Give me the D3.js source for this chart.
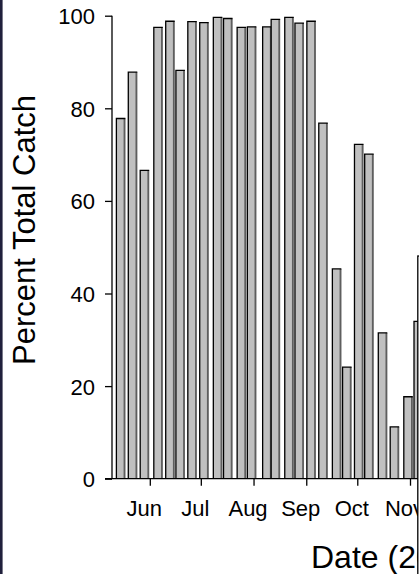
<!DOCTYPE html>
<html>
<head>
<meta charset="utf-8">
<script src="https://cdn.jsdelivr.net/npm/d3@7"></script>
<style>
  html, body { margin: 0; padding: 0; background: #fff; overflow: hidden; }
  svg { display: block; font-family: "Liberation Sans", Arial, sans-serif; }
</style>
</head>
<body>
<svg id="chart" width="419" height="574"></svg>
<script>
//---- Data ------------------------------------------------------------------
var sampleDates = ["2012-05-15", "2012-05-22", "2012-05-29", "2012-06-06", "2012-06-13",
  "2012-06-19", "2012-06-26", "2012-07-03", "2012-07-11", "2012-07-17", "2012-07-25",
  "2012-07-31", "2012-08-09", "2012-08-14", "2012-08-22", "2012-08-28", "2012-09-04",
  "2012-09-11", "2012-09-19", "2012-09-25", "2012-10-02", "2012-10-08", "2012-10-16",
  "2012-10-23", "2012-10-31", "2012-11-06"];
var percentCatch = [77.8, 87.8, 66.6, 97.5, 98.8, 88.2, 98.7, 98.5, 99.65, 99.4, 97.5,
  97.6, 97.6, 99.2, 99.65, 98.4, 98.8, 76.8, 45.3, 24.1, 72.2, 70.1, 31.5, 11.2, 17.7, 34.0];
var yTicks = [0, 20, 40, 60, 80, 100];
var monthTicks = ["2012-06-01", "2012-07-01", "2012-08-01", "2012-09-01", "2012-10-01", "2012-11-01"];
var yTitle = "Percent Total Catch";
var xTitle = "Date (2012)";

//---- Scales ----------------------------------------------------------------
var parse = d3.timeParse("%Y-%m-%d");
var svg = d3.select("#chart");
var axisX = 112, baseY = 478.7, barW = 9;
var font = "Liberation Sans, Arial, sans-serif";

var x = d3.scaleTime()
  .domain([parse("2012-06-01"), parse("2012-11-01")])
  .range([149.8, 410]);
var y = d3.scaleLinear().domain([0, 100]).range([baseY, 15.7]);

var data = sampleDates.map(function (d, i) { return { date: parse(d), value: percentCatch[i] }; });

//---- Bars ------------------------------------------------------------------
var bars = svg.append("g").selectAll("g").data(data).enter().append("g");
bars.append("rect")
  .attr("x", function (d) { return x(d.date) - barW / 2; })
  .attr("y", function (d) { return y(d.value); })
  .attr("width", barW)
  .attr("height", function (d) { return baseY - y(d.value); })
  .attr("fill", "#c0c0c0");
// dark right side
bars.append("line")
  .attr("x1", function (d) { return x(d.date) + barW / 2 - 0.9; })
  .attr("x2", function (d) { return x(d.date) + barW / 2 - 0.9; })
  .attr("y1", function (d) { return y(d.value); })
  .attr("y2", baseY)
  .attr("stroke", "#5e5e5e").attr("stroke-width", 1.8);
// black left + top edge
bars.append("path")
  .attr("d", function (d) {
    var l = x(d.date) - barW / 2, r = x(d.date) + barW / 2, t = y(d.value);
    return "M" + l + "," + baseY + "V" + t + "H" + r;
  })
  .attr("fill", "none").attr("stroke", "#000").attr("stroke-width", 1.3);

//---- Axes ------------------------------------------------------------------
var yAxis = svg.append("g")
  .attr("transform", "translate(" + axisX + ",0)")
  .call(d3.axisLeft(y).tickValues(yTicks).tickSize(7).tickPadding(10));
yAxis.select(".domain").remove();
yAxis.selectAll("line").attr("stroke", "#000").attr("stroke-width", 1.3);
yAxis.selectAll("text").attr("font-size", 22).attr("font-family", font)
  .attr("fill", "#000").attr("dy", "0.36em");
yAxis.append("line").attr("x1", 0).attr("x2", 0).attr("y1", y(100)).attr("y2", y(0))
  .attr("stroke", "#000").attr("stroke-width", 1.3);

var xAxis = svg.append("g")
  .attr("transform", "translate(0," + baseY + ")")
  .call(d3.axisBottom(x).tickValues(monthTicks.map(parse)).tickFormat(d3.timeFormat("%b")).tickSize(7));
xAxis.select(".domain").remove();
xAxis.selectAll("line").attr("stroke", "#000").attr("stroke-width", 1.3);
// labels sit a little left of their tick marks
xAxis.selectAll("text").attr("font-size", 22).attr("font-family", font)
  .attr("fill", "#000").attr("y", 22).attr("dx", -6);
xAxis.append("line").attr("x1", axisX - 7).attr("x2", 460).attr("y1", 0).attr("y2", 0)
  .attr("stroke", "#000").attr("stroke-width", 1.3);

//---- Titles ----------------------------------------------------------------
svg.append("text")
  .attr("transform", "translate(35,230) rotate(-90)")
  .attr("text-anchor", "middle")
  .attr("font-size", 31)
  .text(yTitle);
svg.append("text")
  .attr("x", 311).attr("y", 568)
  .attr("font-size", 32)
  .text(xTitle);

// overlapping panel frame at right edge and left page border
svg.append("rect").attr("x", 417.8).attr("y", 256).attr("width", 100).attr("height", 400)
  .attr("fill", "#fff").attr("stroke", "#000").attr("stroke-width", 1.3);
svg.append("line").attr("x1", 1.3).attr("x2", 1.3).attr("y1", 0).attr("y2", 574)
  .attr("stroke", "#20203c").attr("stroke-width", 2.6);
</script>
</body>
</html>
